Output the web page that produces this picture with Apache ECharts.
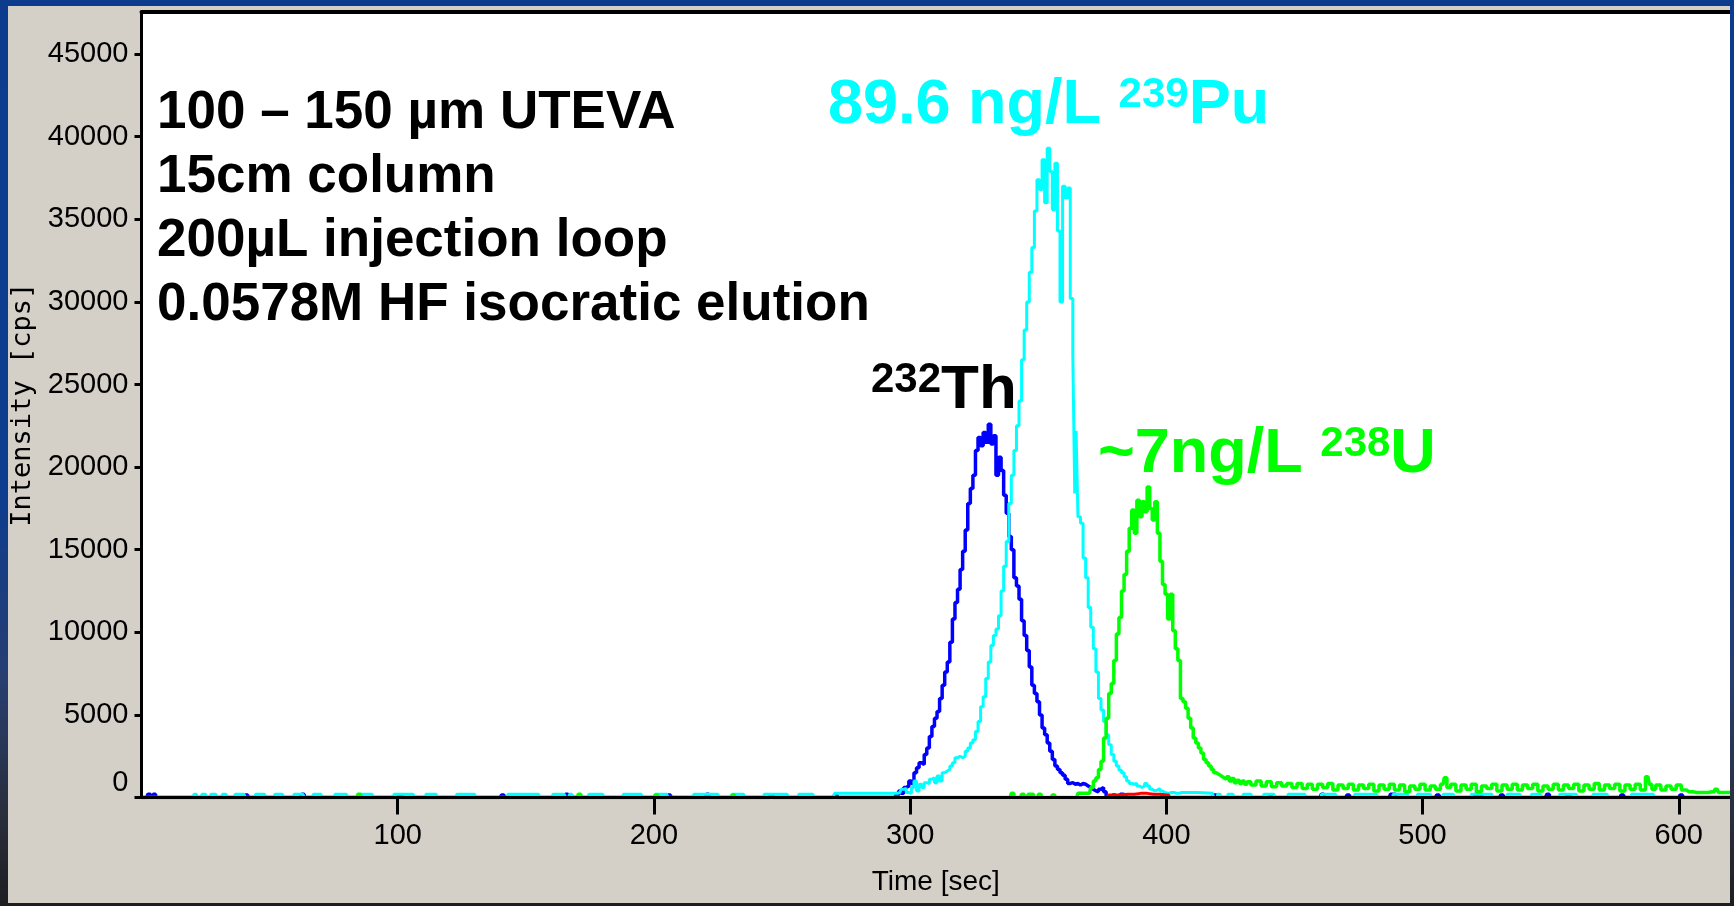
<!DOCTYPE html>
<html><head><meta charset="utf-8">
<script src="https://cdn.jsdelivr.net/npm/echarts@6/dist/echarts.min.js"></script>
<style>
html,body{margin:0;padding:0;width:1734px;height:906px;overflow:hidden;}
body{background:linear-gradient(to bottom,#0d3c8e 0%,#0e3c8e 55%,#283e70 75%,#2a2e3c 90%,#1e1e22 100%);}
#chart{position:absolute;left:8px;top:6px;width:1722px;height:897px;}
</style></head><body><div id="chart"></div>
<script>
// ---- data: [time (s), intensity (cps)] ----
const xTicks = [100, 200, 300, 400, 500, 600];
const yTicks = [0, 5000, 10000, 15000, 20000, 25000, 30000, 35000, 40000, 45000];

const th232 = [
 [0,0],[2,0],[3,200],[4,0],[5,200],[6,0],[40,0],[41,150],[42,0],[62,0],[63,200],[64,0],
 [100,0],[101,150],[102,0],[140,0],[141,150],[142,0],[165,0],[166,200],[167,0],[205,0],[206,150],[207,0],
 [220,0],[221,200],[222,0],[245,0],[246,150],[247,0],[270,0],[271,150],[272,0],[294,0],
 [295,150],[296,400],[297,250],[298,600],[299,700],[300,1000],[301,850],[302,1500],[303,1800],[304,2100],
 [305,2000],[306,2600],[307,3000],[308,3700],[309,4300],[310,4800],[311,5200],[312,6000],[313,6800],
 [314,7600],[315,8200],[316,9400],[317,10800],[318,11800],[319,12600],[320,13800],[321,14900],[322,16200],
 [323,17800],[324,18700],[325,19500],[326,21000],[327,21800],[328,21300],[329,22100],[330,21500],[331,22600],
 [332,21400],[333,21900],[334,19500],[335,20600],[336,19800],[337,18300],[338,17200],[339,15800],[340,15000],
 [341,13300],[342,12800],[343,12000],[344,10700],[345,9800],[346,8900],[347,7900],[348,6800],[349,6300],
 [350,5800],[351,5000],[352,4200],[353,3800],[354,3300],[355,2800],[356,2300],[357,1900],[358,1700],
 [359,1500],[360,1350],[361,1100],[362,850],[363,900],[364,800],[365,850],[366,750],[367,850],[368,800],
 [369,700],[370,600],[371,500],[372,400],[373,350],[374,500],[375,600],[376,350],[377,100],[378,0],
 [380,150],[381,0],[383,200],[384,150],[385,0],[398,0],[399,150],[400,0],[418,0],[419,150],[420,0],
 [440,0],[441,150],[442,0],[460,0],[461,200],[462,0],[470,0],[471,150],[472,0],[487,0],[488,200],[489,200],
 [490,0],[505,0],[506,150],[507,0],[520,0],[521,200],[523,200],[524,0],[530,0],[531,150],[532,0],
 [548,0],[549,200],[550,0],[556,0],[557,150],[558,0],[577,0],[578,150],[579,0],[600,0],[601,150],[602,0],[620,0]
];

const pu239 = [
 [0,0],[20,0],[21,200],[22,0],[25,200],[26,0],[28,200],[29,200],[30,0],[33,200],[34,0],[39,200],[40,200],
 [41,0],[48,200],[49,0],[55,200],[56,0],[63,200],[64,0],[70,200],[71,0],[80,200],[81,0],[90,200],[91,0],
 [106,200],[107,0],[115,200],[116,0],[130,200],[131,0],[155,200],[156,0],[165,200],[166,0],[168,200],
 [169,0],[180,200],[181,0],[195,200],[196,0],[205,200],[206,0],[225,200],[226,0],[235,200],[236,0],
 [250,200],[252,200],[253,0],[260,200],[262,200],[263,0],[270,0],[271,250],[295,250],
 [296,300],[297,500],[298,550],[299,300],[300,250],[301,600],[302,1000],[303,400],[304,800],[305,600],
 [306,900],[307,850],[308,1100],[309,1200],[310,900],[311,1300],[312,1000],[313,1500],[314,1600],
 [315,1700],[316,1900],[317,2100],[318,2400],[319,2500],[320,2400],[321,2500],[322,2800],[323,3000],
 [324,3300],[325,3500],[326,4000],[327,4600],[328,5500],[329,6100],[330,7200],[331,8200],[332,9200],
 [333,9800],[334,10200],[335,11000],[336,12500],[337,14000],[338,15500],[339,17800],[340,19500],
 [341,21000],[342,22500],[343,24000],[344,26500],[345,28300],[346,30000],[347,31800],[348,33300],
 [349,35500],[350,37400],[351,36800],[352,38600],[353,36000],[354,39300],[355,37900],[356,35600],
 [357,38400],[358,34300],[359,30000],[360,37000],[361,36300],[362,36900],[363,30200],[364,26800],
 [364.5,18400],[365,22200],[366,17000],[367,16600],[368,14500],[369,13300],[370,11500],[371,10300],
 [372,9000],[373,7600],[374,6000],[375,5300],[376,4600],[377,3800],[378,3200],[379,2600],[380,2200],
 [381,1900],[382,1650],[383,1500],[384,1250],[385,1000],[386,850],[387,800],[388,850],[389,700],
 [390,600],[391,700],[392,850],[393,700],[394,500],[395,400],[396,450],[397,550],[398,400],[399,300],
 [400,250],[402,300],[404,250],[406,300],[418,250],[419,0],[421,200],[422,0],[426,200],[427,0],
 [433,200],[434,0],[442,200],[443,0],[452,200],[454,200],[455,0],[466,200],[467,0],[480,200],[482,200],
 [483,0],[494,200],[495,0],[501,200],[503,200],[504,0],[512,200],[513,0],[525,200],[527,200],[528,0],
 [538,200],[539,0],[546,200],[547,0],[560,200],[561,0],[572,200],[573,0],[590,200],[591,0],[620,0]
];

const u238 = [
 [0,0],[84,0],[85,200],[86,0],[170,0],[171,200],[172,0],[200,0],[201,150],[202,0],[230,0],[231,150],[232,0],
 [339,0],[340,250],[341,0],[343,0],[344,200],[345,0],[347,200],[348,200],[349,0],[351,200],[352,0],
 [355,0],[356,150],[357,0],[365,0],[366,250],[370,250],
 [371,600],[372,1000],[373,1200],[374,1700],[375,2200],[376,3600],[377,4800],[378,6300],[379,6900],
 [380,8300],[381,9900],[382,10900],[383,12500],[384,13500],[385,14900],[386,16300],[387,17400],
 [388,16000],[389,18000],[390,17000],[391,17900],[392,17300],[393,18800],[394,17500],[395,16800],
 [396,17900],[397,16000],[398,14300],[399,12900],[400,12300],[401,10800],[402,12300],[403,10100],
 [404,9000],[405,8300],[406,6000],[407,5800],[408,5400],[409,4800],[410,4200],[411,3600],[412,3300],
 [413,3000],[414,2700],[415,2300],[416,2100],[417,1900],[418,1700],[419,1500],[420,1400],[421,1300],
 [422,1200],[423,1100],[424,1250],[425,1000],[426,1150],[427,900],[428,1050],[429,850],[430,1000],
 [431,800],[432,950],[434,750],[436,1000],[438,700],[440,950],[442,650],[444,900],[446,700],[448,850],
 [450,600],[452,850],[454,550],[456,800],[458,500],[460,800],[462,600],[464,850],[466,450],[468,750],
 [470,550],[472,800],[474,450],[476,750],[478,550],[480,800],[482,400],[484,750],[486,500],[488,800],
 [490,450],[492,750],[494,350],[496,700],[498,500],[500,800],[502,450],[504,700],[506,500],[508,800],
 [509,1200],[510,600],[512,800],[514,400],[516,750],[518,500],[520,800],[522,350],[524,700],[526,550],
 [528,800],[530,400],[532,750],[534,500],[536,800],[538,450],[540,750],[542,550],[544,800],[546,400],
 [548,700],[550,500],[552,800],[554,450],[556,750],[558,550],[560,800],[562,400],[564,750],[566,500],
 [568,850],[570,450],[572,750],[574,550],[576,800],[578,400],[580,750],[582,500],[584,800],[586,450],
 [588,1250],[589,800],[590,500],[592,750],[594,450],[596,700],[598,500],[600,750],[602,450],[604,350],
 [607,300],[610,300],[613,350],[615,500],[616,300],[620,300]
];

const redTrace = [[0,0],[377,0],[378,150],[385,200],[390,250],[395,200],[400,150],[402,0],[620,0]];

const noteLines = ['100 \u2013 150 \u00b5m UTEVA', '15cm column', '200\u00b5L injection loop', '0.0578M HF isocratic elution'];

// ---- chart ----
const chart = echarts.init(document.getElementById('chart'), null, {renderer: 'canvas'});
const tickFont = "'Liberation Sans',Arial,sans-serif";
const boldFont = "'Liberation Sans',Arial,Helvetica,sans-serif";

function mkSeries(name, data, color, width) {
  return {name, type: 'line', data, step: 'middle', showSymbol: false, symbol: 'none',
    lineStyle: {width, color}, itemStyle: {color}, animation: false, z: 2};
}

chart.setOption({
  backgroundColor: '#d4d0c8',
  animation: false,
  title: [
    {left: 149, top: 75.5, padding: 0, text: noteLines.join('\n'),
     textStyle: {fontFamily: boldFont, fontWeight: 'bold', fontSize: 53, lineHeight: 64, color: '#000'}},
    {left: 820, top: 68.8, padding: 0, text: '{a|89.6 ng/L }{s|239}{a|Pu}',
     textStyle: {rich: {
       a: {fontFamily: boldFont, fontWeight: 'bold', fontSize: 63, lineHeight: 62, color: '#00ffff'},
       s: {fontFamily: boldFont, fontWeight: 'bold', fontSize: 42, lineHeight: 33, verticalAlign: 'top', color: '#00ffff'}}}},
    {left: 863, top: 353.5, padding: 0, text: '{s|232}{a|Th}',
     textStyle: {rich: {
       a: {fontFamily: boldFont, fontWeight: 'bold', fontSize: 62, lineHeight: 62, color: '#000'},
       s: {fontFamily: boldFont, fontWeight: 'bold', fontSize: 42, lineHeight: 41, verticalAlign: 'top', color: '#000'}}}},
    {left: 1090, top: 417.7, padding: 0, text: '{a|~7ng/L }{s|238}{a|U}',
     textStyle: {rich: {
       a: {fontFamily: boldFont, fontWeight: 'bold', fontSize: 63, lineHeight: 62, color: '#00ff00'},
       s: {fontFamily: boldFont, fontWeight: 'bold', fontSize: 42, lineHeight: 39, verticalAlign: 'top', color: '#00ff00'}}}}
  ],
  grid: {left: 133.5, top: 6, right: 0, bottom: 105.5, show: true, backgroundColor: '#ffffff', borderWidth: 0,
         containLabel: false, outerBoundsMode: 'none'},
  xAxis: [
    {type: 'value', min: 0, max: 620, position: 'bottom', z: 10,
     name: 'Time [sec]', nameLocation: 'middle', nameGap: 71,
     nameTextStyle: {fontFamily: tickFont, fontSize: 28, color: '#000'},
     axisLine: {show: true, onZero: false, lineStyle: {color: '#000', width: 3}},
     axisTick: {show: true, length: 17, inside: false, customValues: xTicks, lineStyle: {color: '#000', width: 3}},
     axisLabel: {show: true, margin: 24, customValues: xTicks, fontFamily: tickFont, fontSize: 29, color: '#000',
                 formatter: v => String(v)},
     splitLine: {show: false}},
    {type: 'value', min: 0, max: 620, position: 'top', z: 10,
     axisLine: {show: true, onZero: false, lineStyle: {color: '#000', width: 4}},
     axisTick: {show: false}, axisLabel: {show: false}, splitLine: {show: false}}
  ],
  yAxis: {type: 'value', min: 0, max: 47550, z: 10,
    name: 'Intensity [cps]', nameLocation: 'middle', nameGap: 100, nameRotate: 90,
    nameTextStyle: {fontFamily: "'DejaVu Sans Mono',monospace", fontSize: 27, color: '#000'},
    axisLine: {show: true, onZero: false, lineStyle: {color: '#000', width: 3}},
    axisTick: {show: true, length: 7, customValues: yTicks, lineStyle: {color: '#000', width: 3}},
    axisLabel: {show: true, margin: 13, customValues: yTicks, fontFamily: tickFont, fontSize: 29, color: '#000',
                formatter: v => (v === 0 ? '{z|0}' : String(v)),
                rich: {z: {fontFamily: tickFont, fontSize: 29, color: '#000', padding: [0, 0, 30, 0]}}},
    splitLine: {show: false}},
  series: [
    mkSeries('232Th', th232, '#0000ff', 3.5),
    mkSeries('239Pu', pu239, '#00ffff', 3),
    mkSeries('238U', u238, '#00ff00', 3.5),
    mkSeries('red', redTrace, '#ff0000', 3)
  ]
});
</script></body></html>
